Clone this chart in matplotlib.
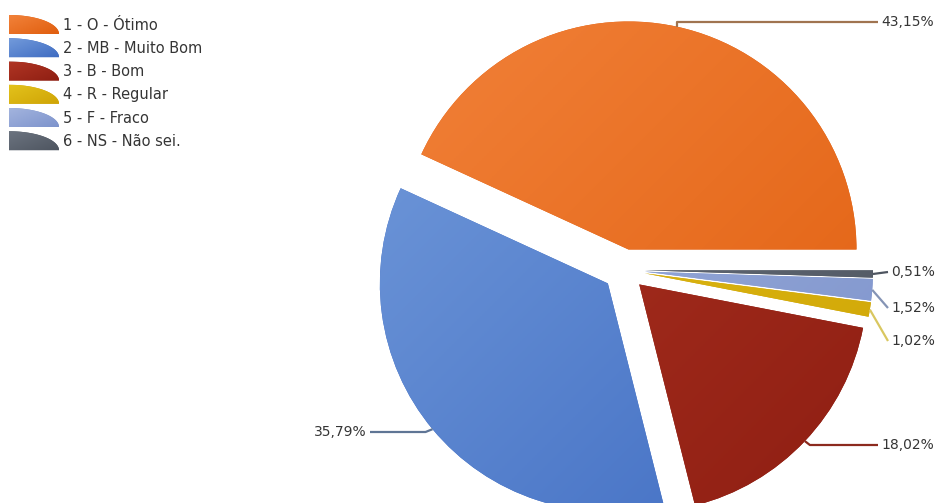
import numpy as np
import matplotlib
matplotlib.use('Agg')
import matplotlib.pyplot as plt
import matplotlib.patches as mpatches
from matplotlib.colors import to_rgb

W = 939
H = 503

CATEGORIES = ['1 - O - Ótimo', '2 - MB - Muito Bom', '3 - B - Bom',
              '4 - R - Regular', '5 - F - Fraco', '6 - NS - Não sei.']
PERCENTS = [43.15, 35.79, 18.02, 1.02, 1.52, 0.51]

LIGHT = ['#F2823A', '#739BDB', '#B03524', '#E3C21C', '#A3B4DE', '#6C7480']
DARK = ['#E05E0E', '#3F6CC2', '#8E1E12', '#CFA405', '#7D93CC', '#4E5560']
LINE_COLOURS = ['#A07450', '#5F7595', '#8C2A1E', '#D9C760', '#8594B5', '#4E5560']
TEXT_COLOUR = '#353535'

PIE_CX, PIE_CY = 624, 270   # pixels from the top left
PIE_RADIUS = 228
EXPLODE = 21

# leader lines / labels (pixel layout)
LABEL_Y = [22, 432, 445, 341, 308, 272]
ELBOW_DX = [0, -7, 5, None, None, None]   # None: elbow sits at the end of the line
LEFT_SIDE = [False, True, False, False, False, False]
TEXT_X = [881, 367, 881, 891, 891, 891]


def py(y):
    # pixel y (from top) -> data y
    return H - y


def gradient_image(c1, c2, n=200):
    a = np.array(to_rgb(c1))
    b = np.array(to_rgb(c2))
    xs = np.linspace(0, 1, n)
    X, Y = np.meshgrid(xs, xs)
    t = (X + Y) / 2
    return a[None, None, :] * (1 - t[..., None]) + b[None, None, :] * t[..., None]


def main():
    fig = plt.figure(figsize=(W / 100, H / 100), dpi=100)
    ax = fig.add_axes([0, 0, 1, 1])
    plt.rcParams['font.family'] = ['DejaVu Sans']

    wedges, _ = ax.pie(PERCENTS, colors=DARK, startangle=0, counterclock=True,
                       explode=[EXPLODE] * len(PERCENTS), radius=PIE_RADIUS,
                       center=(PIE_CX, py(PIE_CY)), frame=True,
                       wedgeprops=dict(linewidth=0))

    ext = PIE_RADIUS + EXPLODE + 5
    extent = (PIE_CX - ext, PIE_CX + ext, py(PIE_CY) - ext, py(PIE_CY) + ext)
    for i, w in enumerate(wedges):
        im = ax.imshow(gradient_image(LIGHT[i], DARK[i]), extent=extent,
                       origin='upper', aspect='auto', zorder=2)
        im.set_clip_path(w)

    # leader lines and percentage labels
    for i, w in enumerate(wedges):
        mid = np.deg2rad((w.theta1 + w.theta2) / 2)
        ax_x = w.center[0] + w.r * np.cos(mid)
        ax_y = w.center[1] + w.r * np.sin(mid)
        ly = py(LABEL_Y[i])
        label = '{:.2f}%'.format(PERCENTS[i]).replace('.', ',')
        if LEFT_SIDE[i]:
            end_x = TEXT_X[i] + 3
            ax.text(TEXT_X[i], ly, label, ha='right', va='center',
                    fontsize=10, color=TEXT_COLOUR, zorder=5)
        else:
            end_x = TEXT_X[i] - 3
            ax.text(TEXT_X[i], ly, label, ha='left', va='center',
                    fontsize=10, color=TEXT_COLOUR, zorder=5)
        ex = end_x if ELBOW_DX[i] is None else ax_x + ELBOW_DX[i]
        ax.plot([ax_x, ex, end_x], [ax_y, ly, ly], color=LINE_COLOURS[i],
                linewidth=1.6, zorder=4, solid_capstyle='butt')

    # legend with quarter-pie markers
    th = np.linspace(0, np.pi / 2, 40)
    for i, cat in enumerate(CATEGORIES):
        yc = 25 + i * 23.25
        bottom = yc + 9
        pts = [(9, py(bottom))]
        pts += [(9 + 50 * np.cos(t), py(bottom - 19 * np.sin(t))) for t in th]
        poly = mpatches.Polygon(pts, closed=True, facecolor=DARK[i], edgecolor='none', zorder=3)
        ax.add_patch(poly)
        im = ax.imshow(gradient_image(LIGHT[i], DARK[i]),
                       extent=(9, 59, py(bottom), py(bottom - 19)),
                       origin='upper', aspect='auto', zorder=3)
        im.set_clip_path(poly)
        ax.text(63, py(yc), cat, ha='left', va='center',
                fontsize=10.5, color=TEXT_COLOUR)

    ax.set_xlim(0, W)
    ax.set_ylim(0, H)
    ax.set_axis_off()

    fig.savefig('out.png', dpi=100, facecolor='white')


main()
